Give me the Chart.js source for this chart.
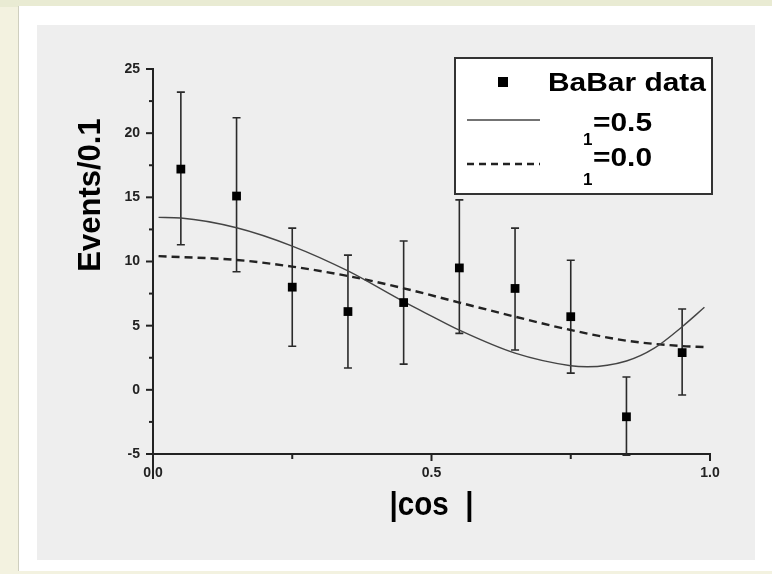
<!DOCTYPE html>
<html><head><meta charset="utf-8">
<script src="https://cdn.jsdelivr.net/npm/chart.js@4.4.1/dist/chart.umd.min.js"></script>
<style>
html,body{margin:0;padding:0;width:772px;height:574px;overflow:hidden;background:#f3f2e0;}
#topband{position:absolute;left:0;top:0;width:772px;height:7px;background:#e9ebd3;}
#frame{position:absolute;left:18px;top:6px;width:754px;height:565px;background:#ffffff;border-left:1px solid #cfcfbf;}
#panel{position:absolute;left:37px;top:25px;width:718px;height:535px;background:#eeeeee;}
#c{position:absolute;left:0;top:0;}
</style></head><body>
<div id="topband"></div><div id="frame"></div><div id="panel"></div>
<canvas id="c" width="772" height="574"></canvas>
<script>
// ---- data ----
const binCenters = [0.05, 0.15, 0.25, 0.35, 0.45, 0.55, 0.65, 0.75, 0.85, 0.95];
const eventCounts = [17.2, 15.1, 8.0, 6.1, 6.8, 9.5, 7.9, 5.7, -2.1, 2.9];
const errLow  = [11.3, 9.2, 3.4, 1.7, 2.0, 4.4, 3.1, 1.3, -5.1, -0.4];
const errHigh = [23.2, 21.2, 12.6, 10.5, 11.6, 14.8, 12.6, 10.1, 1.0, 6.3];

const fitHalfX = [0.01, 0.05, 0.15, 0.25, 0.35, 0.45, 0.5, 0.55, 0.65, 0.75, 0.78, 0.85, 0.9, 0.95, 0.99];
const fitHalfY = [13.44, 13.39, 12.63, 11.2, 9.26, 6.87, 5.75, 4.65, 2.86, 1.88, 1.8, 2.25, 3.25, 4.92, 6.43];
const fitZeroX = [0.01, 0.15, 0.25, 0.35, 0.45, 0.55, 0.65, 0.75, 0.85, 0.95, 0.99];
const fitZeroY = [10.42, 10.12, 9.6, 8.87, 7.91, 6.8, 5.7, 4.66, 3.83, 3.41, 3.33];

const xLabelValues = [0, 0.5, 1];
const xLabelTexts = ['0.0', '0.5', '1.0'];
const seriesNames = ['BaBar data', '=0.5', '=0.0'];
const seriesSubscripts = ['', '1', '1'];
const xTitle = '|cos  |';
const yTitle = 'Events/0.1';

const FONT = '"Liberation Sans", Arial, sans-serif';

function scaledText(ctx, text, x, y, font, sx, align) {
  ctx.save();
  ctx.font = font;
  ctx.textAlign = align;
  ctx.textBaseline = 'alphabetic';
  ctx.translate(x, y);
  ctx.scale(sx, 1);
  ctx.fillText(text, 0, 0);
  ctx.restore();
}

const decor = {
  id: 'decor',
  beforeDatasetsDraw(chart) {
    const {ctx, scales: {x, y}} = chart;
    ctx.save();
    ctx.strokeStyle = '#2a2a2a';
    ctx.lineWidth = 1.6;
    binCenters.forEach((xv, i) => {
      const px = x.getPixelForValue(xv);
      const top = y.getPixelForValue(errHigh[i]);
      const bot = y.getPixelForValue(errLow[i]);
      ctx.beginPath();
      ctx.moveTo(px, top); ctx.lineTo(px, bot);
      ctx.moveTo(px - 4, top); ctx.lineTo(px + 4, top);
      ctx.moveTo(px - 4, bot); ctx.lineTo(px + 4, bot);
      ctx.stroke();
    });
    ctx.restore();
  },
  afterDraw(chart) {
    const {ctx, scales: {x, y}, chartArea: a} = chart;
    ctx.save();
    ctx.strokeStyle = '#222';
    ctx.lineWidth = 2;
    y.ticks.forEach(t => {
      const py = y.getPixelForValue(t.value);
      const major = Math.abs(t.value % 5) < 1e-9;
      ctx.beginPath(); ctx.moveTo(a.left, py); ctx.lineTo(a.left - (major ? 7 : 4), py); ctx.stroke();
    });
    x.ticks.forEach(t => {
      const px = x.getPixelForValue(t.value);
      const major = Math.abs(t.value * 2 - Math.round(t.value * 2)) < 1e-9;
      ctx.beginPath(); ctx.moveTo(px, a.bottom); ctx.lineTo(px, a.bottom + (major ? 7 : 5)); ctx.stroke();
    });
    ctx.beginPath(); ctx.moveTo(a.left, a.bottom); ctx.lineTo(a.left, a.bottom + 25); ctx.stroke();

    // axis titles
    ctx.fillStyle = '#000';
    scaledText(ctx, xTitle, (a.left + a.right) / 2, 515, 'bold 34px ' + FONT, 0.87, 'center');
    ctx.save();
    ctx.translate(100, 195);
    ctx.rotate(-Math.PI / 2);
    ctx.font = 'bold 31px ' + FONT;
    ctx.textAlign = 'center';
    ctx.textBaseline = 'alphabetic';
    ctx.fillText(yTitle, 0, 0);
    ctx.restore();

    // legend box
    ctx.fillStyle = '#fff';
    ctx.fillRect(455, 58, 257, 136);
    ctx.strokeStyle = '#333';
    ctx.lineWidth = 2;
    ctx.strokeRect(455, 58, 257, 136);
    // marker
    ctx.fillStyle = '#000';
    ctx.fillRect(498, 77, 10, 10);
    // solid sample
    ctx.strokeStyle = '#444'; ctx.lineWidth = 1.4;
    ctx.beginPath(); ctx.moveTo(467, 120); ctx.lineTo(540, 120); ctx.stroke();
    // dashed sample
    ctx.strokeStyle = '#222'; ctx.lineWidth = 2.4; ctx.setLineDash([7, 5]);
    ctx.beginPath(); ctx.moveTo(467, 164); ctx.lineTo(540, 164); ctx.stroke();
    ctx.setLineDash([]);
    ctx.fillStyle = '#000';
    scaledText(ctx, seriesNames[0], 548, 91, 'bold 26px ' + FONT, 1.15, 'left');
    scaledText(ctx, seriesNames[1], 593, 131, 'bold 26px ' + FONT, 1.15, 'left');
    scaledText(ctx, seriesSubscripts[1], 583, 145, 'bold 17px ' + FONT, 1.0, 'left');
    scaledText(ctx, seriesNames[2], 593, 166, 'bold 26px ' + FONT, 1.15, 'left');
    scaledText(ctx, seriesSubscripts[2], 583, 185, 'bold 17px ' + FONT, 1.0, 'left');
    ctx.restore();
  }
};

new Chart(document.getElementById('c'), {
  type: 'scatter',
  data: {
    datasets: [
      {
        label: seriesNames[0],
        data: binCenters.map((v, i) => ({x: v, y: eventCounts[i]})),
        showLine: false,
        pointStyle: 'rect',
        pointRadius: 6.2,
        pointBorderWidth: 0,
        backgroundColor: '#000',
        borderColor: '#000'
      },
      {
        label: seriesNames[1],
        data: fitHalfX.map((v, i) => ({x: v, y: fitHalfY[i]})),
        showLine: true,
        pointRadius: 0,
        borderColor: '#444',
        borderWidth: 1.4,
        cubicInterpolationMode: 'monotone'
      },
      {
        label: seriesNames[2],
        data: fitZeroX.map((v, i) => ({x: v, y: fitZeroY[i]})),
        showLine: true,
        pointRadius: 0,
        borderColor: '#222',
        borderWidth: 2.4,
        borderDash: [8, 5],
        cubicInterpolationMode: 'monotone'
      }
    ]
  },
  options: {
    responsive: false,
    devicePixelRatio: 1,
    animation: false,
    events: [],
    layout: {padding: {left: 0, top: 69, right: 62, bottom: 0}},
    plugins: {legend: {display: false}, tooltip: {enabled: false}},
    scales: {
      x: {
        type: 'linear', min: 0, max: 1,
        afterFit: s => { s.height = 120; },
        grid: {display: false, drawTicks: true, tickLength: 7},
        border: {display: true, color: '#222', width: 2},
        ticks: {
          stepSize: 0.25, autoSkip: false, maxRotation: 0, padding: 4,
          color: '#222', font: {family: FONT, size: 14, weight: 'bold'},
          callback: v => { const k = xLabelValues.findIndex(t => Math.abs(t - v) < 1e-9); return k >= 0 ? xLabelTexts[k] : ''; }
        }
      },
      y: {
        type: 'linear', min: -5, max: 25,
        afterFit: s => { s.width = 153; },
        grid: {display: false, drawTicks: true, tickLength: 7},
        border: {display: true, color: '#222', width: 2},
        ticks: {
          stepSize: 2.5, autoSkip: false, padding: 6,
          color: '#222', font: {family: FONT, size: 14, weight: 'bold'},
          callback: v => (Math.abs(v % 5) < 1e-9 ? String(v) : '')
        }
      }
    }
  },
  plugins: [decor]
});
</script>
</body></html>
